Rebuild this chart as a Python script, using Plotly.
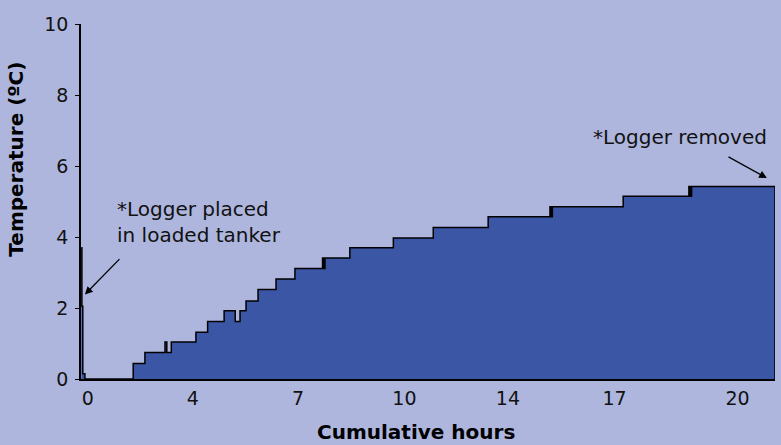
import plotly.graph_objects as go

# Logger readings (cumulative hours on the chart's positional scale, temperature in ºC)
hours = [-0.22, -0.2, -0.17, -0.1,
         1.51, 1.9, 2.57, 2.63, 2.78, 3.6, 3.99, 4.54, 4.91, 5.07, 5.27, 5.67,
         6.27, 6.9, 7.82, 7.86, 7.9, 8.73, 10.18, 11.51, 13.34,
         15.4, 15.44, 15.48, 17.84, 20.03, 20.07, 20.12, 20.18, 22.88, 22.9]
temps = [3.7, 2.05, 0.15, 0.0,
         0.44, 0.75, 1.04, 0.75, 1.04, 1.32, 1.62, 1.92, 1.62, 1.92, 2.2, 2.52,
         2.82, 3.11, 3.41, 3.11, 3.41, 3.7, 3.97, 4.27, 4.57,
         4.85, 4.57, 4.85, 5.15, 5.42, 5.15, 5.42, 5.42, 5.42, 0.0]

x_tick_pos = [0, 3.5, 7, 10.55, 14, 17.55, 21.65]
x_tick_labels = ["0", "4", "7", "10", "14", "17", "20"]
y_ticks = [0, 2, 4, 6, 8, 10]

BG = "#AEB6DE"
FILL = "#3C56A6"
FONT = "DejaVu Sans"
TICK_SIZE = 19
TEXT_SIZE = 20

fig = go.Figure()
fig.add_trace(go.Scatter(
    x=hours, y=temps, mode="lines", line=dict(shape="hv", color="black", width=1.5),
    fill="tozeroy", fillcolor=FILL, hoverinfo="skip", showlegend=False))

fig.update_layout(
    width=781, height=445,
    paper_bgcolor=BG, plot_bgcolor=BG,
    margin=dict(l=81, r=6, t=24, b=66),
    font=dict(family=FONT, size=TICK_SIZE, color="#111"),
    showlegend=False,
    xaxis=dict(range=[-0.23, 22.9], tickvals=x_tick_pos, ticktext=x_tick_labels,
               showgrid=False, zeroline=False, showline=True, linecolor="black",
               linewidth=1.5, ticks="", ticklabelstandoff=1,
               tickfont=dict(family=FONT, size=TICK_SIZE, color="#111")),
    yaxis=dict(range=[0, 10], tickvals=y_ticks, showgrid=False, zeroline=False,
               showline=True, linecolor="black", linewidth=1.5, ticks="outside",
               ticklen=4, tickcolor="black", ticklabelstandoff=3,
               tickfont=dict(family=FONT, size=TICK_SIZE, color="#111")),
)

annotations = [
    dict(text="<b>Cumulative hours</b>", xref="paper", yref="paper", x=0.483, y=-0.15,
         xanchor="center", yanchor="middle", showarrow=False,
         font=dict(family=FONT, size=TEXT_SIZE, color="black")),
    dict(text="<b>Temperature (ºC)</b>", xref="paper", yref="paper", x=-0.094, y=0.62,
         xanchor="center", yanchor="middle", showarrow=False, textangle=-90,
         font=dict(family=FONT, size=TEXT_SIZE, color="black")),
    dict(text="*Logger placed", xref="x", yref="y", x=0.9, y=4.79,
         xanchor="left", yanchor="middle", showarrow=False,
         font=dict(family=FONT, size=TEXT_SIZE, color="#111")),
    dict(text="in loaded tanker", xref="x", yref="y", x=0.9, y=4.06,
         xanchor="left", yanchor="middle", showarrow=False,
         font=dict(family=FONT, size=TEXT_SIZE, color="#111")),
    dict(text="*Logger removed", xref="x", yref="y", x=22.7, y=6.82,
         xanchor="right", yanchor="middle", showarrow=False,
         font=dict(family=FONT, size=TEXT_SIZE, color="#111")),
    dict(text="", x=-0.1, y=2.38, ax=1.1, ay=3.42, xref="x", yref="y",
         axref="x", ayref="y", showarrow=True, arrowhead=2, arrowsize=1.2,
         arrowwidth=1.3, arrowcolor="black"),
    dict(text="", x=22.63, y=5.66, ax=21.3, ay=6.28, xref="x", yref="y",
         axref="x", ayref="y", showarrow=True, arrowhead=2, arrowsize=1.2,
         arrowwidth=1.3, arrowcolor="black"),
]
fig.update_layout(annotations=annotations)

fig.write_html("out.html", config={"displayModeBar": False},
               post_script="document.body.style.margin='0';")
